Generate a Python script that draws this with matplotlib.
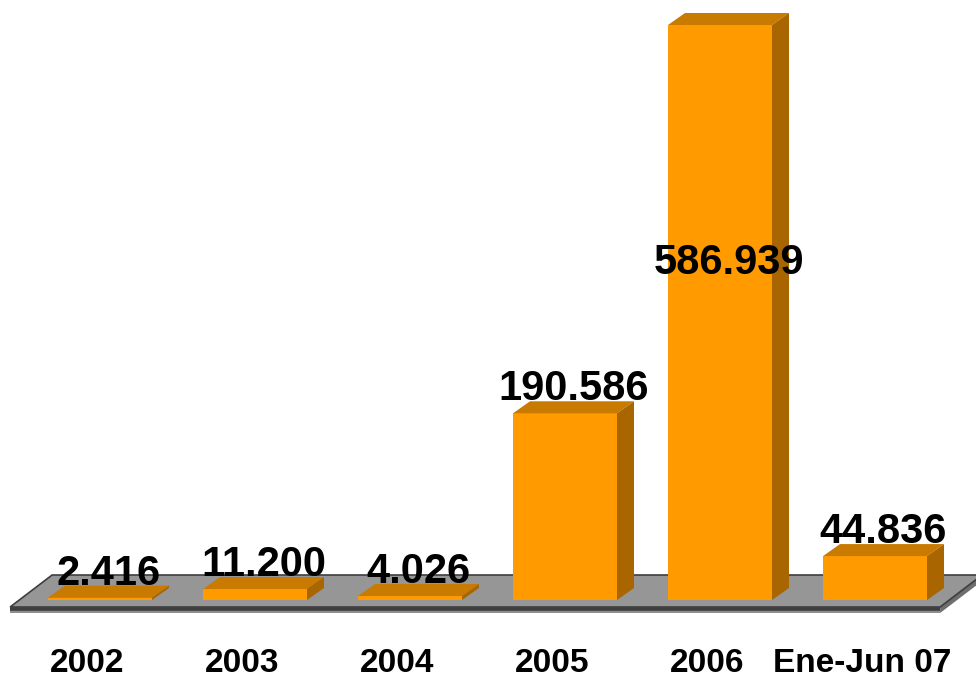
import matplotlib
matplotlib.use("Agg")
import matplotlib.pyplot as plt
from matplotlib.patches import Polygon

categories = ["2002", "2003", "2004", "2005", "2006", "Ene-Jun 07"]
values = [2416, 11200, 4026, 190586, 586939, 44836]

# style
FRONT = "#FF9A00"
TOP = "#C97A00"
SIDE = "#A86500"
FLOOR = "#969696"
FLOOR_EDGE = "#3e3e3e"
FONT = "Liberation Sans"

W, H, DPI = 976, 676, 100
fig = plt.figure(figsize=(W / DPI, H / DPI), dpi=DPI)
ax = fig.add_axes([0, 0, 1, 1])
ax.set_xlim(-0.6452, 5.6516)
ax.set_ylim(-77578, 612458)
ax.axis("off")

# pixel -> data unit helpers (derived from the axes scales)
x0, x1 = ax.get_xlim()
y0, y1 = ax.get_ylim()
px_x = (x1 - x0) / W
px_y = (y1 - y0) / H

bar_w = 104 * px_x
dep_x = 17 * px_x
dep_y = 12 * px_y

# floor
f_left = -0.58
f_right = len(categories) - 1 + 0.42
f_front = -7 * px_y
f_back = 25 * px_y
f_dx = 42 * px_x
slab = 6 * px_y
# slab front face
ax.add_patch(Polygon([(f_left, f_front), (f_right, f_front), (f_right, f_front - slab),
                      (f_left, f_front - slab)], closed=True, fc="#8e8e8e", ec="none", zorder=1))
ax.add_patch(Polygon([(f_right, f_front), (f_right + f_dx, f_back), (f_right + f_dx, f_back - slab),
                      (f_right, f_front - slab)], closed=True, fc="#6e6e6e", ec="none", zorder=1))
ax.add_patch(Polygon([(f_left, f_front), (f_right, f_front), (f_right + f_dx, f_back),
                      (f_left + f_dx, f_back)], closed=True, fc=FLOOR, ec=FLOOR_EDGE,
                     lw=1.2, zorder=2))
ax.plot([f_left, f_right], [f_front - 1.5 * px_y] * 2, color=FLOOR_EDGE, lw=2.6,
        solid_capstyle="butt", zorder=2.5)

label_cap = 320000

for i, (cat, v) in enumerate(zip(categories, values)):
    l = i - bar_w / 2
    r = i + bar_w / 2
    ax.add_patch(Polygon([(l, 0), (r, 0), (r, v), (l, v)], closed=True,
                         fc=FRONT, ec="none", zorder=3))
    ax.add_patch(Polygon([(l, v), (r, v), (r + dep_x, v + dep_y), (l + dep_x, v + dep_y)],
                         closed=True, fc=TOP, ec="none", zorder=3))
    ax.add_patch(Polygon([(r, 0), (r + dep_x, dep_y), (r + dep_x, v + dep_y), (r, v)],
                         closed=True, fc=SIDE, ec="none", zorder=3))
    ly = min(v, label_cap) + dep_y
    ax.annotate(f"{v:,}".replace(",", "."), xy=(i + dep_x / 2, ly), xytext=(0, 1),
                textcoords="offset pixels", ha="center", va="baseline",
                fontsize=30, fontweight="bold", family=FONT, color="black", zorder=5)
    ax.annotate(cat, xy=(i, 0), xytext=(-13, -63), textcoords="offset pixels",
                ha="center", va="center", fontsize=24, fontweight="bold",
                family=FONT, color="black", zorder=5)

fig.savefig("out.png", dpi=DPI, facecolor="white")
